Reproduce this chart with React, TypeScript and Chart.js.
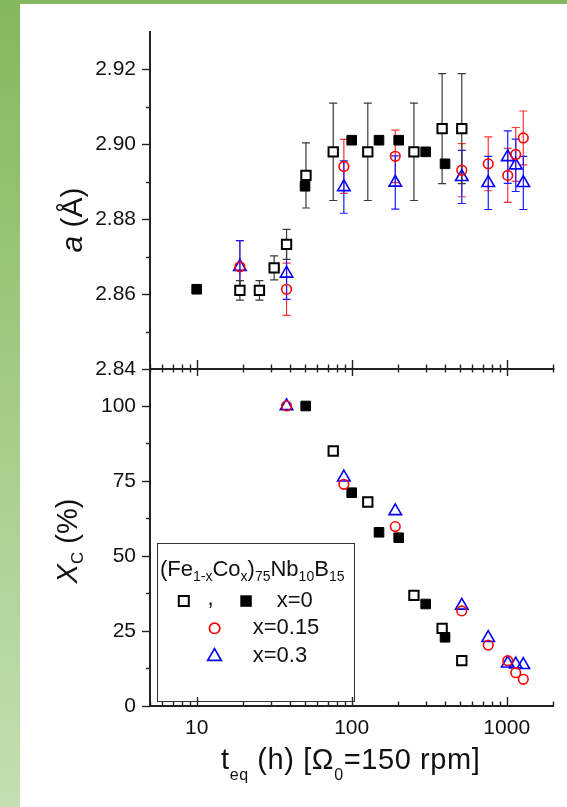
import React, { useEffect, useRef } from 'react';
import { Chart, registerables } from 'chart.js';

Chart.register(...registerables);

// ---------- axis ticks ----------
const X_TICKS = [5, 6, 7, 8, 9, 10, 20, 30, 40, 50, 60, 70, 80, 90, 100, 200, 300, 400, 500, 600, 700, 800, 900, 1000, 2000];
const X_MAJOR = [10, 100, 1000];
const A_TICKS = [2.84, 2.86, 2.88, 2.9, 2.92];
const A_MINOR = [2.85, 2.87, 2.89, 2.91];
const XC_TICKS = [0, 25, 50, 75, 100];
const XC_MINOR = [12.5, 37.5, 62.5, 87.5];

// ---------- top panel: lattice parameter a (Å) ----------
const T_OPEN_A = [19, 25.4, 31.6, 38, 50.7, 76, 127, 252, 383, 513];
const A_OPEN = [2.861, 2.861, 2.867, 2.8733, 2.8917, 2.898, 2.898, 2.898, 2.9042, 2.9042];
const A_OPEN_ERR = [0.0026, 0.0026, 0.0032, 0.004, 0.0087, 0.013, 0.013, 0.013, 0.0147, 0.0147];

const T_FILLED_A = [10, 50, 100, 150, 201, 300, 400];
const A_FILLED = [2.8613, 2.8888, 2.9011, 2.9011, 2.9011, 2.898, 2.8948];

const T_RED_A = [19, 38, 89, 191, 513, 760, 1015, 1143, 1279];
const A_RED = [2.8673, 2.8613, 2.8941, 2.8968, 2.8931, 2.8948, 2.8917, 2.8973, 2.9017];
const A_RED_ERR = [0.007, 0.007, 0.0072, 0.007, 0.0071, 0.0072, 0.0072, 0.0072, 0.0072];

const T_BLUE_A = [19, 38, 89, 191, 513, 760, 1015, 1143, 1279];
const A_BLUE = [2.8673, 2.8655, 2.8886, 2.8898, 2.8913, 2.8897, 2.8966, 2.8944, 2.8897];
const A_BLUE_ERR = [0.007, 0.0069, 0.007, 0.0071, 0.0071, 0.0071, 0.007, 0.007, 0.0071];

// ---------- bottom panel: crystalline fraction X_C (%) ----------
const T_OPEN_X = [76, 127, 252, 383, 513];
const XC_OPEN = [85, 68, 36.9, 25.9, 15.1];

const T_FILLED_X = [50.5, 100, 150, 201, 300, 400];
const XC_FILLED = [100, 71.1, 57.9, 56.1, 34, 22.9];

const T_RED_X = [38, 89, 191, 513, 760, 1015, 1143, 1279];
const XC_RED = [100, 73.9, 59.8, 31.7, 20.3, 15.1, 11.1, 8.9];

const T_BLUE_X = [38, 89, 191, 513, 760, 1015, 1143, 1279];
const XC_BLUE = [100, 76.2, 65, 33.5, 22.7, 14.2, 13.9, 13.7];

// ---------- styles ----------
const FONT = '"Liberation Sans", Arial, Helvetica, sans-serif';
const RED = '#ff0000';
const BLUE = '#0000ff';
const BLACK = '#000000';
const AXIS = '#222222';

const pts = (xs: number[], ys: number[]) => xs.map((x, i) => ({ x, y: ys[i] }));

const errorBarPlugin = {
  id: 'errorBars',
  beforeDatasetsDraw(chart: any) {
    const { ctx } = chart;
    const xs = chart.scales.x;
    chart.data.datasets.forEach((ds: any) => {
      const errs: number[] | undefined = ds.errorBars;
      if (!errs) return;
      const ys = chart.scales[ds.yAxisID];
      ctx.save();
      ctx.strokeStyle = ds.errorColor;
      ctx.lineWidth = 1.2;
      ds.data.forEach((p: any, j: number) => {
        const e = errs[j];
        if (!e) return;
        const px = xs.getPixelForValue(p.x);
        const y1 = ys.getPixelForValue(p.y + e);
        const y2 = ys.getPixelForValue(p.y - e);
        ctx.beginPath();
        ctx.moveTo(px, y1);
        ctx.lineTo(px, y2);
        ctx.moveTo(px - 4, y1);
        ctx.lineTo(px + 4, y1);
        ctx.moveTo(px - 4, y2);
        ctx.lineTo(px + 4, y2);
        ctx.stroke();
      });
      ctx.restore();
    });
  },
};

const tickPlugin = {
  id: 'tickMarks',
  afterDraw(chart: any) {
    const { ctx, chartArea } = chart;
    const xs = chart.scales.x;
    const ya = chart.scales.ya;
    const yx = chart.scales.yx;
    const line = (x1: number, y1: number, x2: number, y2: number) => {
      ctx.beginPath();
      ctx.moveTo(x1, y1);
      ctx.lineTo(x2, y2);
      ctx.stroke();
    };
    ctx.save();
    ctx.strokeStyle = AXIS;
    const mid = ya.getPixelForValue(ya.min);
    ctx.lineWidth = 2;
    line(chartArea.left, mid, chartArea.right + 1, mid);
    ctx.lineWidth = 1.4;
    X_TICKS.forEach((v) => {
      const px = Math.round(xs.getPixelForValue(v)) + 0.5;
      const maj = X_MAJOR.includes(v);
      line(px, chartArea.bottom, px, chartArea.bottom - (maj ? 9 : 4.5));
      line(px, mid - (maj ? 9 : 4.5), px, mid + (maj ? 7 : 3.5));
    });
    const left = chartArea.left;
    const yTicks = (sc: any, major: number[], minor: number[]) => {
      major.forEach((v) => {
        const py = Math.round(sc.getPixelForValue(v)) + 0.5;
        line(left - 8, py, left, py);
      });
      minor.forEach((v) => {
        const py = Math.round(sc.getPixelForValue(v)) + 0.5;
        line(left - 4, py, left, py);
      });
    };
    yTicks(ya, A_TICKS, A_MINOR);
    yTicks(yx, XC_TICKS, XC_MINOR);
    ctx.restore();
  },
};

const tickFont = { family: FONT, size: 21 };

function makeConfig(): any {
  const openSq = { pointStyle: 'rect', pointRadius: 6.6, pointBorderWidth: 2, borderWidth: 2, pointBorderColor: BLACK, borderColor: BLACK, pointBackgroundColor: '#ffffff', backgroundColor: '#ffffff' };
  const fillSq = { pointStyle: 'rect', pointRadius: 6.8, pointBorderWidth: 1, borderWidth: 1, pointBorderColor: BLACK, borderColor: BLACK, pointBackgroundColor: BLACK, backgroundColor: BLACK };
  const circ = { pointStyle: 'circle', pointRadius: 4.8, pointBorderWidth: 1.6, borderWidth: 1.6, pointBorderColor: RED, borderColor: RED, pointBackgroundColor: 'rgba(0,0,0,0)', backgroundColor: 'rgba(0,0,0,0)' };
  const tri = { pointStyle: 'triangle', pointRadius: 7.2, pointBorderWidth: 1.6, borderWidth: 1.6, pointBorderColor: BLUE, borderColor: BLUE, pointBackgroundColor: 'rgba(0,0,0,0)', backgroundColor: 'rgba(0,0,0,0)' };
  return {
    type: 'scatter',
    data: {
      datasets: [
        { label: 'x=0.15 (a)', data: pts(T_RED_A, A_RED), yAxisID: 'ya', ...circ, errorBars: A_RED_ERR, errorColor: '#ff3333' },
        { label: 'x=0.3 (a)', data: pts(T_BLUE_A, A_BLUE), yAxisID: 'ya', ...tri, errorBars: A_BLUE_ERR, errorColor: '#1a1aff' },
        { label: 'x=0 open (a)', data: pts(T_OPEN_A, A_OPEN), yAxisID: 'ya', ...openSq, errorBars: A_OPEN_ERR, errorColor: '#3a3a3a' },
        { label: 'x=0 filled (a)', data: pts(T_FILLED_A, A_FILLED), yAxisID: 'ya', ...fillSq },
        { label: 'x=0.15 (Xc)', data: pts(T_RED_X, XC_RED), yAxisID: 'yx', ...circ },
        { label: 'x=0.3 (Xc)', data: pts(T_BLUE_X, XC_BLUE), yAxisID: 'yx', ...tri },
        { label: 'x=0 open (Xc)', data: pts(T_OPEN_X, XC_OPEN), yAxisID: 'yx', ...openSq },
        { label: 'x=0 filled (Xc)', data: pts(T_FILLED_X, XC_FILLED), yAxisID: 'yx', ...fillSq },
      ],
    },
    options: {
      responsive: false,
      animation: false,
      events: [],
      showLine: false,
      layout: { padding: { top: 32, right: 13.6, left: 0, bottom: 0 } },
      plugins: { legend: { display: false }, tooltip: { enabled: false }, title: { display: false } },
      scales: {
        x: {
          type: 'logarithmic',
          position: 'bottom',
          min: 5,
          max: 2000,
          afterBuildTicks: (s: any) => {
            s.ticks = X_TICKS.map((v) => ({ value: v, major: false }));
          },
          ticks: {
            autoSkip: false,
            maxRotation: 0,
            minRotation: 0,
            padding: 10,
            font: tickFont,
            color: '#111',
            callback: (v: any) => (X_MAJOR.includes(Number(v)) ? String(v) : ''),
          },
          grid: { display: false, drawTicks: false },
          border: { display: true, width: 2, color: AXIS },
          afterFit: (s: any) => {
            s.height = 101;
          },
        },
        yx: {
          type: 'linear',
          position: 'left',
          stack: 'panels',
          stackWeight: 1,
          min: 0,
          max: 112.33,
          afterBuildTicks: (s: any) => {
            s.ticks = XC_TICKS.map((v) => ({ value: v }));
          },
          ticks: { padding: 14, font: tickFont, color: '#111', callback: (v: any) => String(v) },
          grid: { display: false, drawTicks: false },
          border: { display: true, width: 2, color: AXIS },
          afterFit: (s: any) => {
            s.width = 150;
          },
        },
        ya: {
          type: 'linear',
          position: 'left',
          stack: 'panels',
          stackWeight: 1,
          min: 2.84,
          max: 2.93,
          afterBuildTicks: (s: any) => {
            s.ticks = A_TICKS.map((v) => ({ value: v }));
          },
          ticks: { padding: 14, font: tickFont, color: '#111', callback: (v: any) => Number(v).toFixed(2) },
          grid: { display: false, drawTicks: false },
          border: { display: true, width: 2, color: AXIS },
          afterFit: (s: any) => {
            s.width = 150;
          },
        },
      },
    },
    plugins: [errorBarPlugin, tickPlugin],
  };
}

const abs = (left: number, top: number, extra: any = {}): any => ({
  position: 'absolute',
  left,
  top,
  whiteSpace: 'nowrap',
  lineHeight: 1,
  ...extra,
});

const Sub = ({ children, size, drop }: { children: any; size: number; drop: number }) => (
  <span style={{ fontSize: size, position: 'relative', top: drop }}>{children}</span>
);

export default function App() {
  const ref = useRef<HTMLCanvasElement | null>(null);
  useEffect(() => {
    if (!ref.current) return;
    const chart = new Chart(ref.current, makeConfig());
    return () => chart.destroy();
  }, []);

  return (
    <div
      style={{
        position: 'fixed',
        left: 0,
        top: 0,
        width: 567,
        height: 807,
        background: '#ffffff',
        overflow: 'hidden',
        fontFamily: FONT,
        color: '#111',
      }}
    >
      <div style={{ position: 'absolute', left: 0, top: 0, width: 20, height: 807, background: 'linear-gradient(#84b85c, #c4dfb1)' }} />
      <div style={{ position: 'absolute', left: 0, top: 0, width: 567, height: 4, background: '#85b95d' }} />
      <canvas ref={ref} width={567} height={807} style={{ position: 'absolute', left: 0, top: 0 }} />

      {/* y title, top panel */}
      <div style={abs(71.6, 220, { fontSize: 30, transform: 'translate(-50%, -50%) rotate(-90deg)' })}>
        <i>a</i> (Å)
      </div>

      {/* y title, bottom panel */}
      <div style={abs(66.6, 541, { fontSize: 29, transform: 'translate(-50%, -50%) rotate(-90deg)' })}>
        <i>X</i>
        <Sub size={17} drop={6}>C</Sub> (%)
      </div>

      {/* x title */}
      <div style={abs(350.7, 744.5, { fontSize: 29, letterSpacing: 0.6, transform: 'translateX(-50%)' })}>
        t<Sub size={16} drop={11}>eq</Sub> (h) [Ω<Sub size={16} drop={11}>0</Sub>=150 rpm]
      </div>

      {/* legend box */}
      <div
        style={{
          position: 'absolute',
          left: 157,
          top: 543,
          width: 198,
          height: 159,
          border: '1px solid #333',
          boxSizing: 'border-box',
          background: 'transparent',
        }}
      />
      <div style={abs(160, 558.4, { fontSize: 22 })}>
        (Fe<Sub size={14} drop={5}>1-x</Sub>Co<Sub size={14} drop={5}>x</Sub>)<Sub size={14} drop={5}>75</Sub>Nb
        <Sub size={14} drop={5}>10</Sub>B<Sub size={14} drop={5}>15</Sub>
      </div>
      <svg width={567} height={807} style={{ position: 'absolute', left: 0, top: 0 }}>
        <rect x={178.8} y={596} width={10} height={10} fill="#fff" stroke="#000" strokeWidth={2} />
        <rect x={240.3} y={595.3} width={11.5} height={11.5} fill="#000" />
        <circle cx={214.6} cy={628.3} r={5.2} fill="none" stroke={RED} strokeWidth={1.7} />
        <polygon points="214.5,648.6 221.3,660.4 207.7,660.4" fill="none" stroke={BLUE} strokeWidth={1.7} />
      </svg>
      <div style={abs(207.5, 587.4, { fontSize: 22 })}>,</div>
      <div style={abs(276.7, 589.4, { fontSize: 22 })}>x=0</div>
      <div style={abs(252.7, 616.4, { fontSize: 22 })}>x=0.15</div>
      <div style={abs(252.7, 644, { fontSize: 22 })}>x=0.3</div>
    </div>
  );
}
